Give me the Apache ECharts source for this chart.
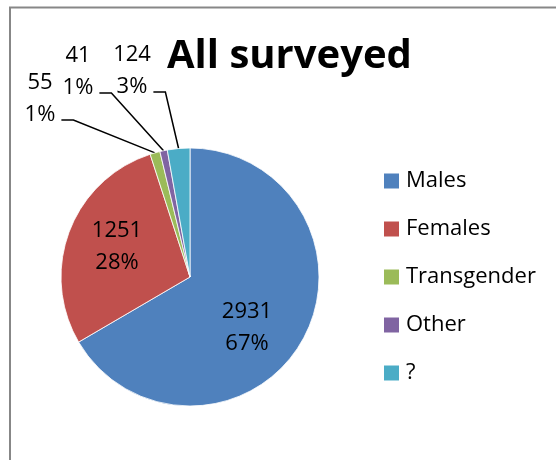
<!DOCTYPE html>
<html><head><meta charset="utf-8">
<script src="https://cdn.jsdelivr.net/npm/echarts@6/dist/echarts.min.js"></script>
<style>html,body{margin:0;padding:0;background:#fff}#c{width:556px;height:460px}</style>
</head><body><div id="c"></div>
<script>
// ---- data ----
const titleText = 'All surveyed';
const categories = ['Males', 'Females', 'Transgender', 'Other', '?'];
const counts = [2931, 1251, 55, 41, 124];
const colors = ['#4F81BD', '#C0504D', '#9BBB59', '#8064A2', '#4BACC6'];

// ---- label placement (px) ----
const mainLabelPos = [[247, 328], [117, 247], [40, 115], [78, 88], [132, 87]];
const countLabelPos = [null, null, [40, 83], [78, 56], [132, 55]];

const FONT = 'Open Sans';
const CENTER = [190, 277];
const RADIUS = 129;

const chart = echarts.init(document.getElementById('c'), null, {renderer: 'canvas'});
const pct = p => Math.round(p.percent) + '%';

chart.setOption({
  animation: false,
  backgroundColor: '#fff',
  graphic: [{
    type: 'rect', z: -10,
    shape: {x: 10, y: 7.5, width: 700, height: 600},
    style: {fill: 'none', stroke: '#878787', lineWidth: 2}
  }],
  title: {
    text: titleText, left: 167, top: 37, padding: 0,
    textStyle: {fontFamily: FONT, fontWeight: 'bold', fontSize: 40, color: '#000'}
  },
  legend: {
    orient: 'vertical', left: 384, top: 170, padding: 0,
    itemWidth: 15, itemHeight: 15, itemGap: 26, icon: 'rect',
    itemStyle: {borderWidth: 0},
    textStyle: {fontFamily: FONT, fontSize: 22, color: '#000', padding: [0, 0, 0, 2]},
    data: categories
  },
  series: [
    {
      type: 'pie', center: CENTER, radius: RADIUS,
      startAngle: 90, clockwise: true, avoidLabelOverlap: false,
      itemStyle: {borderColor: '#fff', borderWidth: 0.8},
      label: {
        show: true, position: 'outside', color: '#000',
        fontFamily: FONT, fontSize: 22, lineHeight: 32,
        formatter: p => p.dataIndex < 2 ? p.value + '\n' + pct(p) : pct(p)
      },
      labelLine: {show: true, length: 10, length2: 12, lineStyle: {color: '#000', width: 1.5}},
      labelLayout: function (p) {
        const i = p.dataIndex;
        const pos = mainLabelPos[i];
        const res = {x: pos[0], y: pos[1], align: 'center', verticalAlign: 'middle'};
        if (i >= 2 && p.labelLinePoints) {
          const rx = pos[0] + p.labelRect.width / 2 + 6;
          const ly = pos[1] + 5;
          res.labelLinePoints = [p.labelLinePoints[0], [rx + 12, ly], [rx, ly]];
        }
        return res;
      },
      data: categories.map((n, i) => ({
        name: n, value: counts[i],
        itemStyle: {color: colors[i]},
        label: i < 2 ? {position: 'inside'} : {},
        labelLine: i < 2 ? {show: false} : {}
      }))
    },
    {
      type: 'pie', center: CENTER, radius: RADIUS, silent: true,
      startAngle: 90, clockwise: true, avoidLabelOverlap: false,
      itemStyle: {color: 'rgba(0,0,0,0)', borderWidth: 0},
      label: {
        show: true, position: 'outside', color: '#000',
        fontFamily: FONT, fontSize: 22, lineHeight: 32,
        formatter: p => String(p.value)
      },
      labelLine: {show: false},
      labelLayout: function (p) {
        const pos = countLabelPos[p.dataIndex];
        return pos ? {x: pos[0], y: pos[1], align: 'center', verticalAlign: 'middle'} : {};
      },
      data: categories.map((n, i) => ({
        name: n, value: counts[i],
        label: {show: i >= 2}
      }))
    }
  ]
});
</script>
</body></html>
